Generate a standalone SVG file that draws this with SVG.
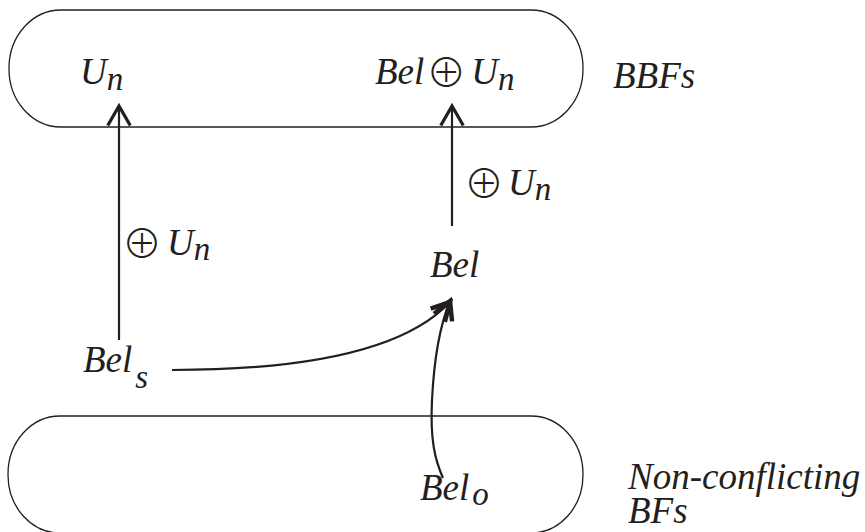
<svg xmlns="http://www.w3.org/2000/svg" width="865" height="532" viewBox="0 0 865 532">
<style>
.box{fill:none;stroke:#231f20;stroke-width:1.3}
.ln{fill:none;stroke:#231f20;stroke-width:2.2}
text{font-family:'Liberation Serif','DejaVu Serif',serif;font-style:italic;font-size:37px;fill:#231f20}
.sub{font-size:33px}
.op{font-family:'Noto Sans CJK JP',sans-serif;font-weight:300;font-style:normal;font-size:40px}
</style>
<defs>
<marker id="ah" markerUnits="userSpaceOnUse" markerWidth="30" markerHeight="30" refX="0" refY="0" viewBox="-16 -10 20 20" orient="auto" overflow="visible">
<path d="M-13,-7.5 L0,0 L-13,7.5" fill="none" stroke="#231f20" stroke-width="2.2"/>
</marker>
<marker id="ah2" markerUnits="userSpaceOnUse" markerWidth="30" markerHeight="30" refX="0" refY="0" viewBox="-16 -10 20 20" orient="auto" overflow="visible">
<path d="M-12,-6.5 L0,0 L-12,6.5" fill="none" stroke="#231f20" stroke-width="3"/>
</marker>
</defs>
<g id="bbfs">
<rect class="box" x="9" y="10" width="574" height="117" rx="52" ry="58"/>
<text x="613" y="88">BBFs</text>
</g>
<g id="nonconf">
<rect class="box" x="8" y="416" width="575" height="117" rx="52" ry="58"/>
<text x="628" y="489">Non-conflicting<tspan x="628" dy="34">BFs</tspan></text>
</g>
<g id="un">
<text x="80" y="84">U<tspan class="sub" dy="6">n</tspan></text>
</g>
<g id="bel-plus-un">
<text x="375" y="84">Bel<tspan class="op" dx="2" dy="3">⊕</tspan><tspan dx="5" dy="-3">U</tspan><tspan class="sub" dy="6">n</tspan></text>
</g>
<g id="bel">
<text x="430" y="277">Bel</text>
</g>
<g id="bels">
<text x="83" y="372">Bel<tspan class="sub" dx="3" dy="16">s</tspan></text>
</g>
<g id="belo">
<text x="420" y="500">Bel<tspan class="sub" dx="3" dy="5">o</tspan></text>
</g>
<g id="connectors">
<line class="ln" x1="119" y1="340" x2="119" y2="106" marker-end="url(#ah)"/>
<line class="ln" x1="452" y1="226" x2="452" y2="106" marker-end="url(#ah)"/>
<path class="ln" d="M172,370 C320,370 410,345 450,302" marker-end="url(#ah2)"/>
<path class="ln" d="M443,478 C435,460 430,440 432,400 C434,360 440,325 450,301" marker-end="url(#ah2)"/>
<text x="122" y="255"><tspan class="op" dy="3">⊕</tspan><tspan dx="5" dy="-3">U</tspan><tspan class="sub" dy="5">n</tspan></text>
<text x="464" y="195"><tspan class="op" dy="3">⊕</tspan><tspan dx="4" dy="-3">U</tspan><tspan class="sub" dy="5">n</tspan></text>
</g>
</svg>
